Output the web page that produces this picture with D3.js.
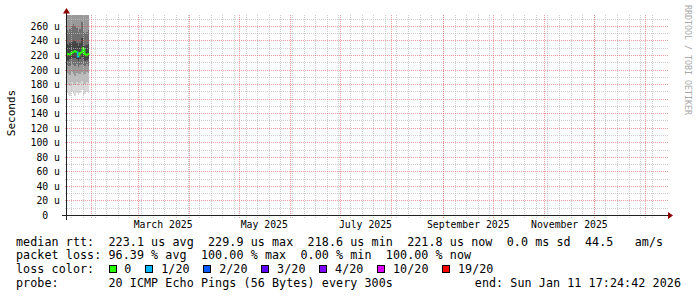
<!DOCTYPE html>
<html>
<head>
<meta charset="utf-8">
<script src="https://cdn.jsdelivr.net/npm/d3@7"></script>
<style>
  body { margin: 0; background: #fff; }
  svg text { font-family: "DejaVu Sans Mono", monospace; white-space: pre; fill: #000; }
</style>
</head>
<body>
<div id="chart"></div>
<script>
var svgWidth = 697;
var svgHeight = 297;

// plot area (rrdtool style: origin bottom-left, 600 x 200)
var xLeft = 66.5, xRight = 663.5, xEnd = 666.5;
var yBottom = 215.5, yTop = 15.5;

// ---- data ----
var startTime = "2025-01-16T17:24:42Z";
var endTime = "2026-01-11T17:24:42Z";

var stepTimes = ["2025-01-16T12:00Z", "2025-01-17T12:00Z", "2025-01-18T12:00Z", "2025-01-19T12:00Z",
    "2025-01-20T12:00Z", "2025-01-21T12:00Z", "2025-01-22T12:00Z", "2025-01-23T12:00Z",
    "2025-01-24T12:00Z", "2025-01-25T12:00Z", "2025-01-26T12:00Z", "2025-01-27T12:00Z",
    "2025-01-28T12:00Z", "2025-01-29T12:00Z"];
var stepEnd = "2025-01-30T12:00Z";

// median rtt in microseconds
var median = [222.3, 222.0, 221.5, 223.0, 224.5, 226.0, 225.0, 218.6, 223.0, 224.0, 229.9, 222.0, 220.5, 221.8];
// lost pings out of 20
var loss = [0, 0, 0, 0, 0, 0, 0, 1, 0, 0, 0, 0, 0, 0];

// smoke bands (sorted ping percentiles, outer to inner), microseconds
var smokeLo1 = [168, 166, 165, 170, 167, 164, 169, 166, 168, 172, 165, 167, 170, 168];
var smokeHi1 = [420, 400, 430, 440, 450, 435, 425, 410, 428, 460, 415, 405, 412, 420];
var smokeLo2 = [182, 180, 178, 184, 181, 179, 183, 180, 182, 185, 179, 181, 184, 182];
var smokeHi2 = [330, 320, 335, 340, 345, 338, 332, 325, 334, 350, 328, 322, 326, 330];
var smokeLo3 = [196, 194, 193, 197, 195, 192, 196, 194, 195, 198, 193, 195, 197, 196];
var smokeHi3 = [282, 276, 286, 290, 294, 288, 284, 279, 285, 298, 281, 277, 280, 283];
var smokeLo4 = [207, 205, 206, 208, 207, 205, 208, 204, 207, 209, 205, 206, 208, 206];
var smokeHi4 = [255, 252, 257, 260, 263, 261, 258, 253, 257, 266, 254, 251, 253, 255];
var smokeLo5 = [214, 213, 215, 216, 217, 216, 215, 212, 215, 218, 214, 213, 214, 215];
var smokeHi5 = [236, 234, 237, 239, 241, 240, 237, 233, 237, 244, 235, 233, 235, 236];
var smokeColors = ["#d9d9d9", "#bdbdbd", "#999999", "#6f6f6f", "#454545"];

var yTicks = [0, 20, 40, 60, 80, 100, 120, 140, 160, 180, 200, 220, 240, 260];
var yLabels = ["0", "20 u", "40 u", "60 u", "80 u", "100 u", "120 u", "140 u", "160 u", "180 u",
    "200 u", "220 u", "240 u", "260 u"];

var monthLabelDates = ["2025-03-01", "2025-05-01", "2025-07-01", "2025-09-01", "2025-11-01"];
var monthLabels = ["March 2025", "May 2025", "July 2025", "September 2025", "November 2025"];

var lossSteps = [0, 1, 2, 3, 4, 10, 19];
var lossLabels = ["0", "1/20", "2/20", "3/20", "4/20", "10/20", "19/20"];
var lossColors = ["#26ff00", "#00b8ff", "#0059ff", "#5e00ff", "#7e00ff", "#dd00ff", "#ff0000"];

var legendLine1 = "median rtt:  223.1 us avg  229.9 us max  218.6 us min  221.8 us now  0.0 ms sd  44.5   am/s";
var legendLine2 = "packet loss: 96.39 % avg  100.00 % max  0.00 % min  100.00 % now";
var probeText = "probe:       20 ICMP Echo Pings (56 Bytes) every 300s";
var endText = "end: Sun Jan 11 17:24:42 2026";

// ---- scales ----
var xScale = d3.scaleUtc()
    .domain([new Date(startTime), new Date(endTime)])
    .range([xLeft, xRight]);

var yScale = d3.scaleLinear()
    .domain([0, 275])
    .range([yBottom, yTop]);

function px(v) { return Math.floor(v) + 0.5; }

function lossColor(n) {
    var c = lossColors[0];
    lossSteps.forEach(function(s, i) { if (n >= s) c = lossColors[i]; });
    return c;
}

var svg = d3.select("#chart")
    .append("svg")
    .attr("width", svgWidth)
    .attr("height", svgHeight);

svg.append("rect").attr("width", svgWidth).attr("height", svgHeight).attr("fill", "#fff");

svg.append("clipPath").attr("id", "plotclip")
    .append("rect")
    .attr("x", xLeft).attr("y", yTop - 0.5)
    .attr("width", xEnd - xLeft).attr("height", yBottom - yTop);

var plot = svg.append("g").attr("clip-path", "url(#plotclip)");

// ---- smoke ----
var times = stepTimes.map(d => new Date(d));
var nextTimes = times.slice(1).concat([new Date(stepEnd)]);
var smoke = [
    [smokeLo1, smokeHi1], [smokeLo2, smokeHi2], [smokeLo3, smokeHi3],
    [smokeLo4, smokeHi4], [smokeLo5, smokeHi5]
];

smoke.forEach(function(band, k) {
    plot.append("g")
        .attr("shape-rendering", "crispEdges")
        .selectAll("rect")
        .data(times)
        .enter()
        .append("rect")
        .attr("x", (d, i) => xScale(d))
        .attr("width", (d, i) => xScale(nextTimes[i]) - xScale(d))
        .attr("y", (d, i) => yScale(band[1][i]))
        .attr("height", (d, i) => yScale(band[0][i]) - yScale(band[1][i]))
        .attr("fill", smokeColors[k]);
});

// ---- median line coloured by loss ----
plot.append("g")
    .selectAll("path")
    .data(times)
    .enter()
    .append("path")
    .attr("d", function(d, i) {
        var yPrev = yScale(median[i > 0 ? i - 1 : i]);
        return "M" + xScale(d) + "," + yPrev + "V" + yScale(median[i]) + "H" + xScale(nextTimes[i]);
    })
    .attr("fill", "none")
    .attr("stroke", (d, i) => lossColor(loss[i]))
    .attr("stroke-width", 2);

// ---- grid (drawn on top, like rrdtool) ----
var grid = svg.append("g")
    .attr("shape-rendering", "crispEdges")
    .attr("stroke-dasharray", "1,1")
    .attr("fill", "none");

var minorColor = "rgba(190,190,190,0.75)";
var majorColor = "rgba(222,79,79,0.55)";

// weekly minor lines
grid.selectAll(".vminor")
    .data(xScale.ticks(d3.utcMonday))
    .enter()
    .append("line")
    .attr("x1", d => px(xScale(d))).attr("x2", d => px(xScale(d)))
    .attr("y1", yBottom + 2).attr("y2", yTop - 2)
    .attr("stroke", minorColor);

// horizontal minor lines every 10 u
grid.selectAll(".hminor")
    .data(d3.range(10, 275, 20))
    .enter()
    .append("line")
    .attr("x1", xLeft - 2).attr("x2", xEnd + 2)
    .attr("y1", d => px(yScale(d))).attr("y2", d => px(yScale(d)))
    .attr("stroke", minorColor);

// monthly major lines
grid.selectAll(".vmajor")
    .data(xScale.ticks(d3.utcMonth))
    .enter()
    .append("line")
    .attr("x1", d => px(xScale(d))).attr("x2", d => px(xScale(d)))
    .attr("y1", yBottom + 2).attr("y2", yTop - 2)
    .attr("stroke", majorColor);

grid.selectAll(".hmajor")
    .data(yTicks.slice(1))
    .enter()
    .append("line")
    .attr("x1", xLeft - 2).attr("x2", xEnd + 2)
    .attr("y1", d => px(yScale(d))).attr("y2", d => px(yScale(d)))
    .attr("stroke", majorColor);

// ---- axes ----
var axisColor = "#212121";
var arrowColor = "#8b0000";

svg.append("line")
    .attr("x1", xLeft - 4.5).attr("x2", xEnd + 4)
    .attr("y1", yBottom).attr("y2", yBottom)
    .attr("stroke", axisColor).attr("shape-rendering", "crispEdges");

svg.append("line")
    .attr("x1", xLeft).attr("x2", xLeft)
    .attr("y1", yBottom + 4).attr("y2", yTop - 4.5)
    .attr("stroke", axisColor).attr("shape-rendering", "crispEdges");

svg.append("polygon")
    .attr("points", [[xEnd + 1.5, yBottom - 3.5], [xEnd + 1.5, yBottom + 3.5], [xEnd + 6.5, yBottom]].join(" "))
    .attr("fill", arrowColor);

svg.append("polygon")
    .attr("points", [[xLeft - 3.5, yTop - 2], [xLeft + 3.5, yTop - 2], [xLeft, yTop - 7.5]].join(" "))
    .attr("fill", arrowColor);

// y tick labels
svg.append("g")
    .selectAll("text")
    .data(yTicks)
    .enter()
    .append("text")
    .attr("x", (d, i) => yLabels[i].indexOf("u") >= 0 ? 60 : 48.2)
    .attr("y", d => px(yScale(d)) + 3.6)
    .attr("text-anchor", "end")
    .style("font-size", "9.8px")
    .text((d, i) => yLabels[i]);

// x labels, centred in the middle of the month
svg.append("g")
    .selectAll("text")
    .data(monthLabelDates)
    .enter()
    .append("text")
    .attr("x", d => xScale(d3.utcDay.offset(new Date(d + "T00:00Z"), 15)))
    .attr("y", 228)
    .attr("text-anchor", "middle")
    .style("font-size", "9.8px")
    .text((d, i) => monthLabels[i]);

// vertical axis title
svg.append("text")
    .attr("transform", "translate(14.5, 113) rotate(-90)")
    .attr("text-anchor", "middle")
    .style("font-size", "11px")
    .text("Seconds");

// watermark
svg.append("text")
    .attr("transform", "translate(684.5, 5) rotate(90)")
    .style("font-size", "8.3px")
    .style("fill", "#a8a8a8")
    .text("RRDTOOL / TOBI OETIKER");

// ---- legend ----
var legendSize = "11.7px";
var legendSpacing = "0.075px";
var charW = 7.02;
var lineY = [245.5, 259.2, 272.9, 286.6];

function legendText(x, y, s) {
    return svg.append("text")
        .attr("x", x).attr("y", y)
        .style("font-size", legendSize)
        .style("letter-spacing", legendSpacing)
        .text(s);
}

legendText(16, lineY[0], legendLine1);
legendText(16, lineY[1], legendLine2);
legendText(16, lineY[2], "loss color:");

var boxX = [];
var bx = 108.5;
lossLabels.forEach(function(l) {
    boxX.push(bx);
    bx += 8.8 + charW * (l.length + 3);
});

var lossLegend = svg.append("g")
    .selectAll("g")
    .data(lossLabels)
    .enter()
    .append("g");

lossLegend.append("rect")
    .attr("x", (d, i) => Math.round(boxX[i]) + 0.5)
    .attr("y", 265.5)
    .attr("width", 7)
    .attr("height", 7)
    .attr("fill", (d, i) => lossColors[i])
    .attr("stroke", "#000")
    .attr("shape-rendering", "crispEdges");

lossLegend.append("text")
    .attr("x", (d, i) => boxX[i] + 8.8 + charW)
    .attr("y", lineY[2])
    .style("font-size", legendSize)
    .style("letter-spacing", legendSpacing)
    .text(d => d);

legendText(16, lineY[3], probeText);
legendText(681, lineY[3], endText).attr("text-anchor", "end");
</script>
</body>
</html>
